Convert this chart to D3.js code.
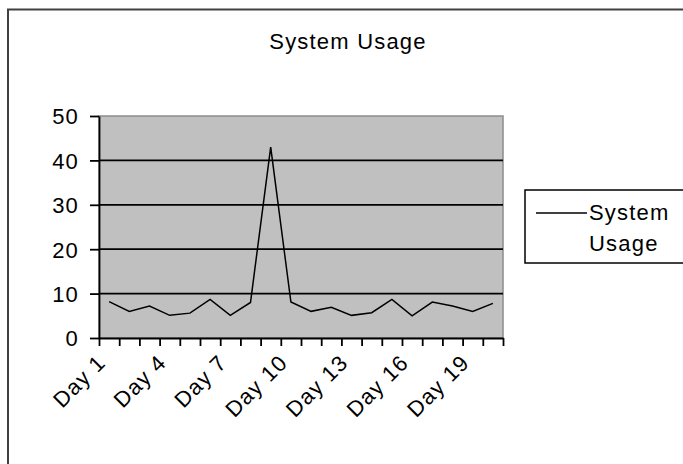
<!DOCTYPE html>
<html>
<head>
<meta charset="utf-8">
<script src="https://cdn.jsdelivr.net/npm/d3@7"></script>
<style>
  body { margin: 0; background: #fff; }
  svg text { font-family: "Liberation Sans", Arial, sans-serif; font-size: 22px; letter-spacing: 1.2px; fill: #000; }
</style>
</head>
<body>
<svg id="chart" width="683" height="464"></svg>
<script>
const days = ['Day 1', 'Day 2', 'Day 3', 'Day 4', 'Day 5', 'Day 6', 'Day 7', 'Day 8', 'Day 9', 'Day 10',
  'Day 11', 'Day 12', 'Day 13', 'Day 14', 'Day 15', 'Day 16', 'Day 17', 'Day 18', 'Day 19', 'Day 20'];
const usage = [8.2, 6, 7.2, 5.1, 5.6, 8.7, 5.1, 8, 43, 8.1, 6, 6.9, 5.1, 5.7, 8.7, 5, 8.1, 7.2, 6, 7.8];
const yTicks = [0, 10, 20, 30, 40, 50];
const seriesName = ['System', 'Usage'];
const chartTitle = 'System Usage';

const PLOT = { left: 99, right: 503, top: 116, bottom: 338 };

const svg = d3.select('#chart');

// outer chart frame (runs off the right and bottom edge)
svg.append('rect')
  .attr('x', 8).attr('y', 9.5)
  .attr('width', 720).attr('height', 500)
  .attr('fill', '#fff')
  .attr('stroke', '#404040')
  .attr('stroke-width', 2);

svg.append('text')
  .attr('x', 348).attr('y', 49)
  .attr('text-anchor', 'middle')
  .text(chartTitle);

const x = d3.scaleBand().domain(days).range([PLOT.left, PLOT.right]);
const xEdge = d3.scaleLinear().domain([0, days.length]).range([PLOT.left, PLOT.right]);
const y = d3.scaleLinear().domain([0, 50]).range([PLOT.bottom, PLOT.top]);

// plot area
svg.append('rect')
  .attr('x', PLOT.left).attr('y', PLOT.top)
  .attr('width', PLOT.right - PLOT.left)
  .attr('height', PLOT.bottom - PLOT.top)
  .attr('fill', '#c0c0c0')
  .attr('stroke', '#8c8c8c')
  .attr('stroke-width', 1.5);

svg.append('g')
  .selectAll('line')
  .data(yTicks.filter(d => d > 0 && d < 50))
  .join('line')
  .attr('x1', PLOT.left).attr('x2', PLOT.right)
  .attr('y1', d => y(d)).attr('y2', d => y(d))
  .attr('stroke', '#000')
  .attr('stroke-width', 1.8);

// y axis
const yAxis = svg.append('g')
  .attr('transform', `translate(${PLOT.left},0)`)
  .call(d3.axisLeft(y).tickValues(yTicks).tickSize(9).tickSizeOuter(0).tickPadding(11));
yAxis.selectAll('path, line').attr('stroke', '#000').attr('stroke-width', 1.8);
yAxis.selectAll('text').attr('font-size', null).attr('font-family', null).attr('dy', '0.36em');

// x axis ticks at category edges
const xAxis = svg.append('g')
  .attr('transform', `translate(0,${PLOT.bottom})`)
  .call(d3.axisBottom(xEdge).tickValues(d3.range(days.length + 1)).tickSize(8).tickSizeOuter(0).tickFormat(''));
xAxis.selectAll('path, line').attr('stroke', '#000').attr('stroke-width', 1.8);

// rotated category labels, every third day
const xLabels = svg.append('g')
  .attr('transform', `translate(0,${PLOT.bottom})`)
  .call(d3.axisBottom(x).tickValues(days.filter((d, i) => i % 3 === 0)).tickSize(0));
xLabels.select('.domain').remove();
xLabels.selectAll('text')
  .attr('font-size', null).attr('font-family', null)
  .attr('text-anchor', 'end')
  .attr('dy', null)
  .attr('y', 0)
  .attr('transform', 'translate(-2,26) rotate(-45)');

// series line
const line = d3.line()
  .x((d, i) => x(days[i]) + x.bandwidth() / 2)
  .y(d => y(d));

svg.append('path')
  .datum(usage)
  .attr('d', line)
  .attr('fill', 'none')
  .attr('stroke', '#000')
  .attr('stroke-width', 1.5);

// legend
const legend = svg.append('g');
legend.append('rect')
  .attr('x', 525).attr('y', 190)
  .attr('width', 200).attr('height', 73)
  .attr('fill', '#fff')
  .attr('stroke', '#000')
  .attr('stroke-width', 1.5);
legend.append('line')
  .attr('x1', 536).attr('x2', 587)
  .attr('y1', 213).attr('y2', 213)
  .attr('stroke', '#000')
  .attr('stroke-width', 1.5);
legend.selectAll('text.series')
  .data(seriesName)
  .join('text')
  .attr('class', 'series')
  .attr('x', 589)
  .attr('y', (d, i) => 220 + i * 31)
  .text(d => d);
</script>
</body>
</html>
